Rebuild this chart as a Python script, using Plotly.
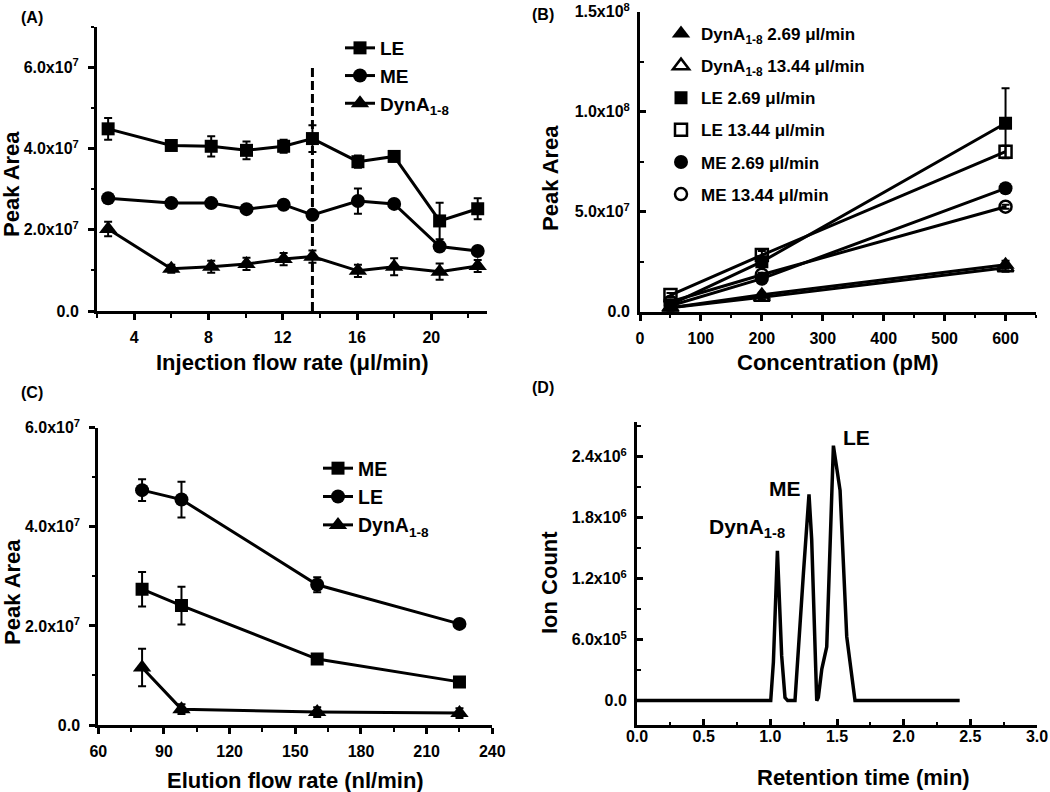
import plotly.graph_objects as go

FONT = "Liberation Sans"
W, H = 1050, 792

# ---------------- (A) injection flow rate ----------------
a_flow = [2.6, 6.0, 8.15, 10.05, 12.05, 13.6, 16.05, 18.0, 20.45, 22.5]
a_le = [4.49e7, 4.08e7, 4.06e7, 3.96e7, 4.06e7, 4.25e7, 3.68e7, 3.81e7, 2.22e7, 2.52e7]
a_le_err = [0.27e7, 0.06e7, 0.25e7, 0.22e7, 0.16e7, 0.33e7, 0.15e7, 0.12e7, 0.45e7, 0.26e7]
a_me = [2.78e7, 2.66e7, 2.66e7, 2.51e7, 2.62e7, 2.37e7, 2.71e7, 2.64e7, 1.59e7, 1.48e7]
a_me_err = [0.05e7, 0.1e7, 0.08e7, 0.08e7, 0.1e7, 0.1e7, 0.31e7, 0.08e7, 0.1e7, 0.05e7]
a_dyn = [2.02e7, 1.04e7, 1.09e7, 1.16e7, 1.28e7, 1.34e7, 0.99e7, 1.09e7, 0.97e7, 1.11e7]
a_dyn_err = [0.18e7, 0.1e7, 0.15e7, 0.15e7, 0.15e7, 0.15e7, 0.15e7, 0.21e7, 0.2e7, 0.15e7]
a_dash_x = [13.6, 13.6]
a_dash_y = [0.0, 6.0e7]
a_xticks = [4, 8, 12, 16, 20]
a_yticks = [0, 2e7, 4e7, 6e7]
a_ylabels = ["0.0", "2.0x10<sup>7</sup>", "4.0x10<sup>7</sup>", "6.0x10<sup>7</sup>"]

# ---------------- (B) concentration ----------------
b_conc = [50, 200, 600]
b_dyn_269 = [0.2e7, 0.85e7, 2.35e7]
b_dyn_269_err = [0.05e7, 0.1e7, 0.2e7]
b_dyn_1344 = [0.2e7, 0.72e7, 2.2e7]
b_dyn_1344_err = [0.05e7, 0.1e7, 0.2e7]
b_le_269 = [0.35e7, 2.5e7, 9.42e7]
b_le_269_err = [0.05e7, 0.1e7, 1.75e7]
b_le_1344 = [0.83e7, 2.83e7, 8.0e7]
b_le_1344_err = [0.1e7, 0.2e7, 0.3e7]
b_me_269 = [0.3e7, 1.65e7, 6.17e7]
b_me_269_err = [0.05e7, 0.1e7, 0.1e7]
b_me_1344 = [0.5e7, 1.85e7, 5.25e7]
b_me_1344_err = [0.05e7, 0.1e7, 0.1e7]
b_xticks = [0, 100, 200, 300, 400, 500, 600]
b_yticks = [0, 5e7, 1e8, 1.5e8]
b_ylabels = ["0.0", "5.0x10<sup>7</sup>", "1.0x10<sup>8</sup>", "1.5x10<sup>8</sup>"]

# ---------------- (C) elution flow rate ----------------
c_flow = [80, 98, 160, 225]
c_me = [2.74e7, 2.41e7, 1.33e7, 0.87e7]
c_me_err = [0.35e7, 0.38e7, 0.05e7, 0.05e7]
c_le = [4.74e7, 4.55e7, 2.83e7, 2.04e7]
c_le_err = [0.22e7, 0.36e7, 0.15e7, 0.05e7]
c_dyn = [1.16e7, 0.32e7, 0.26e7, 0.24e7]
c_dyn_err = [0.38e7, 0.1e7, 0.1e7, 0.1e7]
c_xticks = [60, 90, 120, 150, 180, 210, 240]
c_yticks = [0, 2e7, 4e7, 6e7]
c_ylabels = ["0.0", "2.0x10<sup>7</sup>", "4.0x10<sup>7</sup>", "6.0x10<sup>7</sup>"]

# ---------------- (D) chromatogram ----------------
d_time = [0.0, 0.5, 1.0, 1.003, 1.023, 1.053, 1.085, 1.11, 1.13, 1.17, 1.185,
          1.248, 1.29, 1.31, 1.335, 1.348, 1.36, 1.386, 1.423, 1.473, 1.523,
          1.573, 1.635, 2.0, 2.42]
d_count = [0.0, 0.0, 0.0, 0.0, 3.8e5, 1.475e6, 4.4e5, 3e4, 0.0, 0.0, 0.0,
           1.25e6, 2.03e6, 1.59e6, 3.8e5, 0.0, 3e4, 3.1e5, 5.3e5, 2.51e6, 2.07e6,
           6.3e5, 0.0, 0.0, 0.0]
d_xticks = [0, 0.5, 1.0, 1.5, 2.0, 2.5, 3.0]
d_yticks = [0, 6e5, 1.2e6, 1.8e6, 2.4e6]
d_ylabels = ["0.0", "6.0x10<sup>5</sup>", "1.2x10<sup>6</sup>", "1.8x10<sup>6</sup>", "2.4x10<sup>6</sup>"]


def fx(p):
    return p / W


def fy(p):
    return 1 - p / H


def font(size):
    return dict(family=FONT, size=size, color="black", weight="bold")


def bold(labels):
    return ["<b>%s</b>" % t for t in labels]


def err(vals):
    return dict(type="data", array=vals, visible=True, color="black", thickness=2, width=4)


LINE = dict(color="black", width=3)
SIZES = {"square": 13, "circle": 14, "triangle-up": 16,
         "square-open": 12, "circle-open": 12, "triangle-up-open": 14}


def mk(sym):
    return dict(symbol=sym, size=SIZES[sym], color="black",
                line=dict(width=2.5 if "open" in sym else 0, color="black"))


fig = go.Figure()

# (A)
for name, yv, ev, sym in [("LE", a_le, a_le_err, "square"),
                          ("ME", a_me, a_me_err, "circle"),
                          ("DynA<sub>1-8</sub>", a_dyn, a_dyn_err, "triangle-up")]:
    fig.add_trace(go.Scatter(x=a_flow, y=yv, error_y=err(ev), mode="lines+markers", name=name,
                             line=LINE, marker=mk(sym), xaxis="x", yaxis="y", legend="legend"))
fig.add_trace(go.Scatter(x=a_dash_x, y=a_dash_y, mode="lines", showlegend=False,
                         line=dict(color="black", width=3, dash="9px,4px"), xaxis="x", yaxis="y"))

# (B)
b_series = [("DynA<sub>1-8</sub> 2.69 μl/min", b_dyn_269, b_dyn_269_err, "triangle-up"),
            ("DynA<sub>1-8</sub> 13.44 μl/min", b_dyn_1344, b_dyn_1344_err, "triangle-up-open"),
            ("LE 2.69 μl/min", b_le_269, b_le_269_err, "square"),
            ("LE 13.44 μl/min", b_le_1344, b_le_1344_err, "square-open"),
            ("ME 2.69 μl/min", b_me_269, b_me_269_err, "circle"),
            ("ME 13.44 μl/min", b_me_1344, b_me_1344_err, "circle-open")]
for name, yv, ev, sym in b_series:
    fig.add_trace(go.Scatter(x=b_conc, y=yv, mode="lines", line=LINE, showlegend=False,
                             xaxis="x2", yaxis="y2"))
for i, (name, yv, ev, sym) in enumerate(b_series):
    fig.add_trace(go.Scatter(x=b_conc, y=yv, error_y=err(ev), mode="markers", name=name,
                             marker=mk(sym), xaxis="x2", yaxis="y2", legend="legend2",
                             legendgroup="b%d" % i))

# (C)
for name, yv, ev, sym in [("ME", c_me, c_me_err, "square"),
                          ("LE", c_le, c_le_err, "circle"),
                          ("DynA<sub>1-8</sub>", c_dyn, c_dyn_err, "triangle-up")]:
    fig.add_trace(go.Scatter(x=c_flow, y=yv, error_y=err(ev), mode="lines+markers", name=name,
                             line=LINE, marker=mk(sym), xaxis="x3", yaxis="y3", legend="legend3"))

# (D)
fig.add_trace(go.Scatter(x=d_time, y=d_count, mode="lines", showlegend=False,
                         line=dict(color="black", width=3.5), xaxis="x4", yaxis="y4"))


def axis(domain, rng, tickvals, ticktext, minor_dtick, anchor, ticks="outside", standoff=0):
    return dict(domain=domain, range=rng, anchor=anchor, tickmode="array", tickvals=tickvals,
                ticktext=bold(ticktext), showline=True, linecolor="black", linewidth=3,
                ticks=ticks, ticklen=6, tickwidth=2.5, tickcolor="black",
                ticklabelstandoff=standoff, automargin=False,
                showgrid=False, zeroline=False, tickfont=font(16),
                minor=dict(tickmode="linear", tick0=0, dtick=minor_dtick, ticks=ticks,
                           ticklen=3.5, tickwidth=2, tickcolor="black", showgrid=False))


fig.update_layout(
    width=W, height=H, margin=dict(l=0, r=0, t=0, b=0, pad=0), autosize=False,
    paper_bgcolor="white", plot_bgcolor="white",
    font=font(16),
    xaxis=axis([fx(97), fx(487)], [2, 23], a_xticks, [str(v) for v in a_xticks], 2, "y", standoff=4),
    yaxis=axis([fy(311), fy(27)], [0, 7e7], a_yticks, a_ylabels, 1e7, "x", standoff=6),
    xaxis2=axis([fx(640), fx(1036)], [0, 650], b_xticks, [str(v) for v in b_xticks], 50, "y2", standoff=4),
    yaxis2=axis([fy(311.7), fy(11.7)], [0, 1.5e8], b_yticks, b_ylabels, 2.5e7, "x2", ticks="inside", standoff=4),
    xaxis3=axis([fx(98.3), fx(492.3)], [60, 240], c_xticks, [str(v) for v in c_xticks], 15, "y3", standoff=4),
    yaxis3=axis([fy(725), fy(427.7)], [0, 6e7], c_yticks, c_ylabels, 1e7, "x3", standoff=6),
    xaxis4=axis([fx(637), fx(1037)], [0, 3], d_xticks, ["%.1f" % v for v in d_xticks], 0.25, "y4", ticks="inside", standoff=-5),
    yaxis4=axis([fy(725), fy(422.3)], [-2.4e5, 2.74e6], d_yticks, d_ylabels, 3e5, "x4", ticks="inside", standoff=4),
    legend=dict(x=fx(340), y=fy(29), xanchor="left", yanchor="top", font=font(19),
                bgcolor="rgba(0,0,0,0)", borderwidth=0, itemwidth=30),
    legend2=dict(x=fx(661), y=fy(16), xanchor="left", yanchor="top", font=font(17),
                 bgcolor="rgba(0,0,0,0)", borderwidth=0, itemwidth=30,
                 traceorder="grouped", tracegroupgap=7),
    legend3=dict(x=fx(318), y=fy(449), xanchor="left", yanchor="top", font=font(19.5),
                 bgcolor="rgba(0,0,0,0)", borderwidth=0, itemwidth=30),
)

annots = [
    # panel letters
    ("(A)", 32, 18, 0, 16), ("(B)", 543, 15, 0, 16), ("(C)", 32, 392, 0, 16), ("(D)", 543, 387, 0, 16),
    # axis titles
    ("Injection flow rate (μl/min)", 292, 362, 0, 22),
    ("Peak Area", 12, 184, -90, 22),
    ("Concentration (pM)", 838, 363, 0, 22),
    ("Peak Area", 551, 178, -90, 22),
    ("Elution flow rate (nl/min)", 295, 780, 0, 22),
    ("Peak Area", 12, 592, -90, 22),
    ("Retention time (min)", 863, 777, 0, 22),
    ("Ion Count", 549, 583, -90, 22),
    # peak labels
    ("ME", 785, 488, 0, 21),
    ("LE", 856, 438, 0, 21),
]
for text, x, y, ang, size in annots:
    fig.add_annotation(text=text, x=fx(x), y=fy(y), xref="paper", yref="paper",
                       xanchor="center", yanchor="middle", textangle=ang, showarrow=False,
                       font=font(size))
fig.add_annotation(text="DynA<sub>1-8</sub>", x=fx(707), y=fy(528), xref="paper", yref="paper",
                   xanchor="left", yanchor="middle", showarrow=False, font=font(21))

fig.write_html("out.html", config={"displayModeBar": False},
               post_script="document.body.style.margin='0px';document.body.style.overflow='hidden';")
